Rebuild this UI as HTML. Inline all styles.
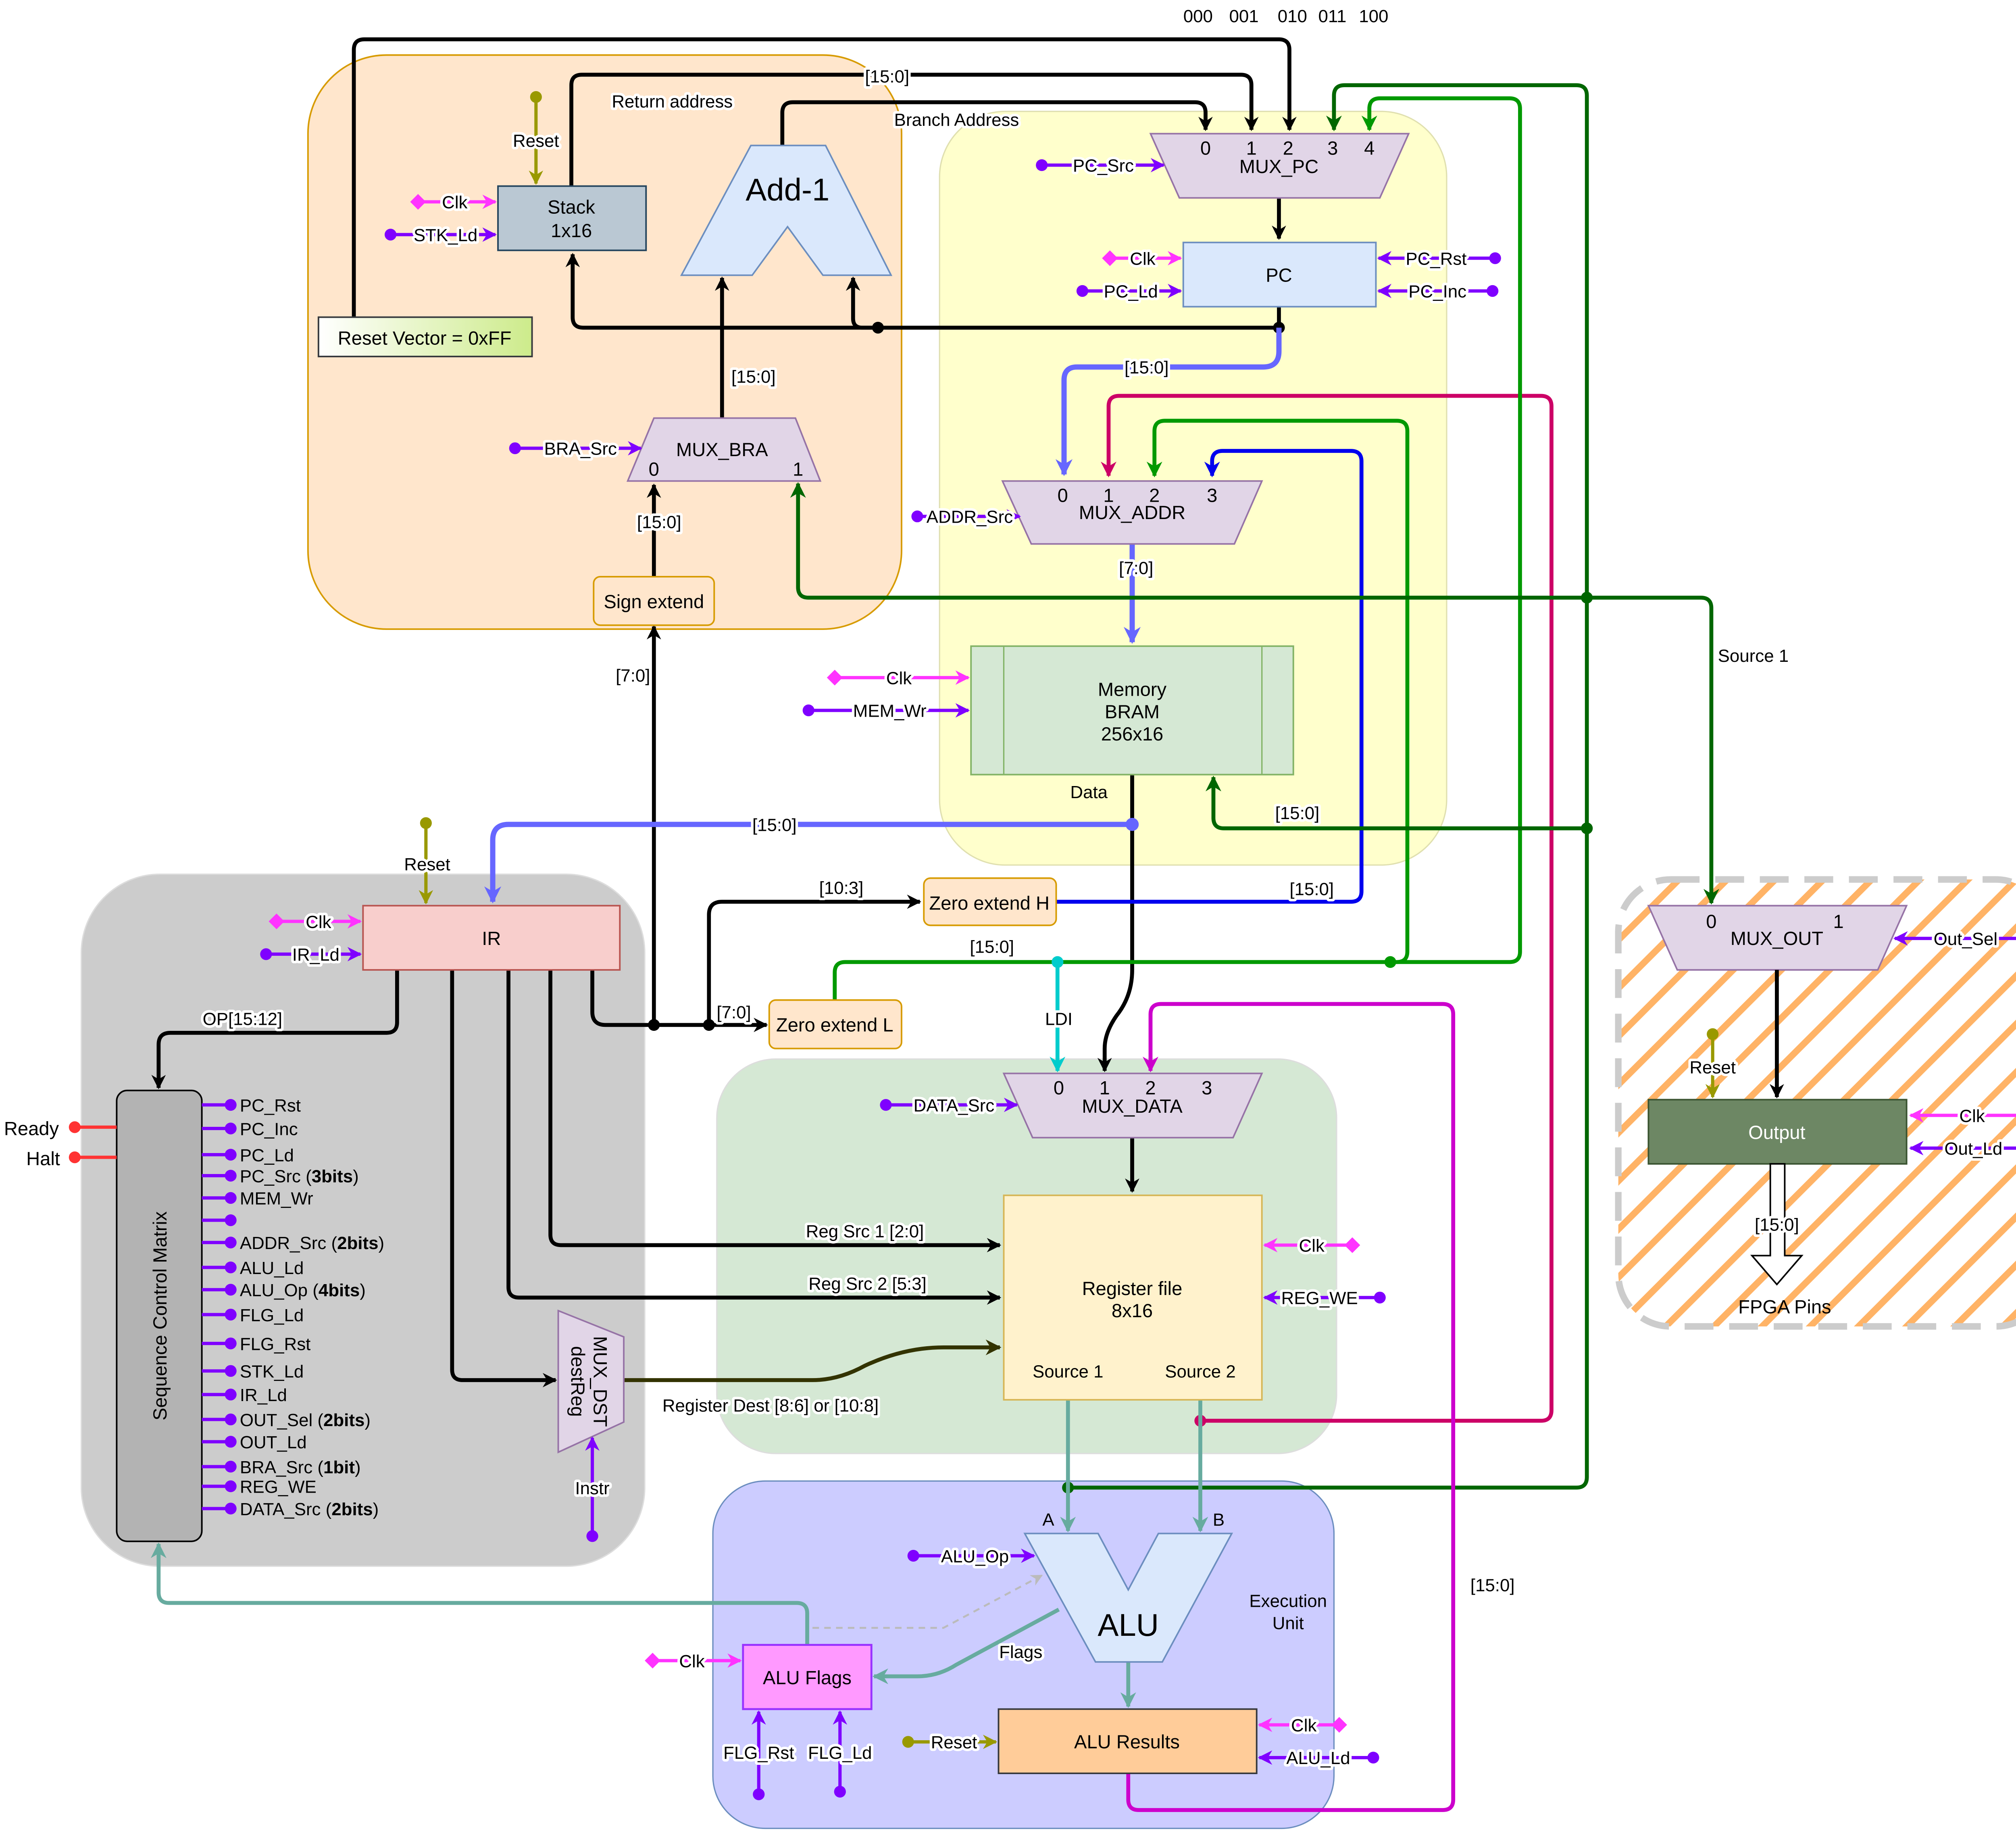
<!DOCTYPE html>
<html><head><meta charset="utf-8">
<style>
html,body{margin:0;padding:0;background:#fff;}
svg{display:block;}
text{font-family:"Liberation Sans",sans-serif;font-size:13.5px;fill:#000;}
.lb{paint-order:stroke;stroke:#fff;stroke-width:4px;stroke-linejoin:round;}
.c{text-anchor:middle;}
.n{font-size:14.5px;text-anchor:middle;}
.w{fill:none;stroke-linejoin:round;}
</style></head><body>
<svg width="5096" height="4540" viewBox="0 0 1568 1397" xmlns="http://www.w3.org/2000/svg">
<defs>
<marker id="mk" viewBox="0 0 10 10" refX="9" refY="5" markerWidth="11" markerHeight="11" markerUnits="userSpaceOnUse" orient="auto"><path d="M0,0L10,5L0,10L3,5z" fill="#000"/></marker>
<marker id="mb" viewBox="0 0 10 10" refX="9" refY="5" markerWidth="13" markerHeight="13" markerUnits="userSpaceOnUse" orient="auto"><path d="M0,0L10,5L0,10L3,5z" fill="#6666ff"/></marker>
<marker id="md" viewBox="0 0 10 10" refX="9" refY="5" markerWidth="12" markerHeight="12" markerUnits="userSpaceOnUse" orient="auto"><path d="M0,0L10,5L0,10L3,5z" fill="#0000ee"/></marker>
<marker id="mr" viewBox="0 0 10 10" refX="9" refY="5" markerWidth="12" markerHeight="12" markerUnits="userSpaceOnUse" orient="auto"><path d="M0,0L10,5L0,10L3,5z" fill="#cc0066"/></marker>
<marker id="mg" viewBox="0 0 10 10" refX="9" refY="5" markerWidth="12" markerHeight="12" markerUnits="userSpaceOnUse" orient="auto"><path d="M0,0L10,5L0,10L3,5z" fill="#009900"/></marker>
<marker id="mdg" viewBox="0 0 10 10" refX="9" refY="5" markerWidth="12" markerHeight="12" markerUnits="userSpaceOnUse" orient="auto"><path d="M0,0L10,5L0,10L3,5z" fill="#006600"/></marker>
<marker id="mc" viewBox="0 0 10 10" refX="9" refY="5" markerWidth="12" markerHeight="12" markerUnits="userSpaceOnUse" orient="auto"><path d="M0,0L10,5L0,10L3,5z" fill="#00cccc"/></marker>
<marker id="mm" viewBox="0 0 10 10" refX="9" refY="5" markerWidth="12" markerHeight="12" markerUnits="userSpaceOnUse" orient="auto"><path d="M0,0L10,5L0,10L3,5z" fill="#cc00cc"/></marker>
<marker id="mt" viewBox="0 0 10 10" refX="9" refY="5" markerWidth="12" markerHeight="12" markerUnits="userSpaceOnUse" orient="auto"><path d="M0,0L10,5L0,10L3,5z" fill="#67ab9f"/></marker>
<marker id="mp" viewBox="0 0 10 10" refX="9" refY="5" markerWidth="11" markerHeight="11" markerUnits="userSpaceOnUse" orient="auto"><path d="M0,0L10,5L0,10L3,5z" fill="#7f00ff"/></marker>
<marker id="mk2" viewBox="0 0 10 10" refX="9" refY="5" markerWidth="11" markerHeight="11" markerUnits="userSpaceOnUse" orient="auto"><path d="M0,0L10,5L0,10L3,5z" fill="#ff33ff"/></marker>
<marker id="mo" viewBox="0 0 10 10" refX="9" refY="5" markerWidth="11" markerHeight="11" markerUnits="userSpaceOnUse" orient="auto"><path d="M0,0L10,5L0,10L3,5z" fill="#999900"/></marker>
<marker id="mdk" viewBox="0 0 10 10" refX="9" refY="5" markerWidth="12" markerHeight="12" markerUnits="userSpaceOnUse" orient="auto"><path d="M0,0L10,5L0,10L3,5z" fill="#333300"/></marker>
<marker id="mgr" viewBox="0 0 10 10" refX="9" refY="5" markerWidth="9" markerHeight="9" markerUnits="userSpaceOnUse" orient="auto"><path d="M0,0L10,5L0,10L3,5z" fill="#bbb"/></marker>
<pattern id="hatch" width="26" height="26" patternUnits="userSpaceOnUse" patternTransform="rotate(45)"><rect width="26" height="26" fill="#fff"/><rect width="5" height="26" fill="#ffb366"/></pattern>
<linearGradient id="rv" x1="0" x2="1"><stop offset="0" stop-color="#fff"/><stop offset="1" stop-color="#cdeb8b"/></linearGradient>
</defs>

<!-- regions -->
<rect x="235" y="42" width="453" height="438" rx="60" fill="#ffe6cc" stroke="#d79b00" stroke-width="1.2"/>
<rect x="717" y="85" width="387" height="575" rx="50" fill="#ffffcc" stroke="#e0e0b0" stroke-width="1"/>
<rect x="62" y="667" width="430" height="528" rx="60" fill="#cccccc" stroke="#ddd" stroke-width="1"/>
<rect x="547" y="808" width="473" height="301" rx="45" fill="#d5e8d4" stroke="#ddd" stroke-width="1"/>
<rect x="544" y="1130" width="474" height="265" rx="40" fill="#ccccff" stroke="#6c8ebf" stroke-width="1"/>
<rect x="1235" y="671" width="328" height="341" rx="40" fill="url(#hatch)" stroke="#cccccc" stroke-width="5" stroke-dasharray="22,12"/>

<text x="903" y="17">000</text><text x="938" y="17">001</text><text x="975" y="17">010</text><text x="1006" y="17">011</text><text x="1037" y="17">100</text>

<!-- black connectors -->
<g class="w" stroke="#000" stroke-width="3">
<path d="M270,242V38Q270,30 278,30H976Q984,30 984,38V99" marker-end="url(#mk)"/>
<path d="M436,142V65Q436,57 444,57H947Q955,57 955,65V99" marker-end="url(#mk)"/>
<path d="M597,111V86Q597,78 605,78H912Q920,78 920,86V99" marker-end="url(#mk)"/>
<path d="M976,151V182" marker-end="url(#mk)"/>
<path d="M976,234V250H445Q437,250 437,242V194" marker-end="url(#mk)"/>
<path d="M670,250H658Q651,250 651,243V212" marker-end="url(#mk)"/>
<path d="M551,319V212" marker-end="url(#mk)"/>
<path d="M499,440V370" marker-end="url(#mk)"/>
<path d="M452,740V772Q452,782 462,782H585" marker-end="url(#mk)"/>
<path d="M499,782V478" marker-end="url(#mk)"/>
<path d="M541,782V698Q541,688 551,688H702" marker-end="url(#mk)"/>
<path d="M303,740V780Q303,788 295,788H130Q121,788 121,797V830" marker-end="url(#mk)"/>
<path d="M420,740V942Q420,950 428,950H763" marker-end="url(#mk)"/>
<path d="M388,740V982Q388,990 396,990H763" marker-end="url(#mk)"/>
<path d="M345,740V1045Q345,1053 353,1053H424" marker-end="url(#mk)"/>
<path d="M864,591V740Q864,760 852,775Q843,788 843,800V817" marker-end="url(#mk)"/>
<path d="M864,868V909" marker-end="url(#mk)"/>
</g>
<path class="w" d="M476,1053H620Q640,1053 660,1042Q690,1028 720,1028H763" stroke="#333300" stroke-width="3" marker-end="url(#mdk)"/>
<g fill="#000"><circle cx="976" cy="250" r="4.5"/><circle cx="670" cy="250" r="4.5"/><circle cx="499" cy="782" r="4.5"/><circle cx="541" cy="782" r="4.5"/></g>

<!-- blue -->
<g class="w" stroke="#6666ff" stroke-width="4">
<path d="M976,250V268Q976,280 964,280H822Q812,280 812,290V362" marker-end="url(#mb)"/>
<path d="M864,415V490" marker-end="url(#mb)"/>
<path d="M864,629H388Q376,629 376,641V688" marker-end="url(#mb)"/>
</g>
<circle cx="864" cy="629" r="5" fill="#6666ff"/>
<path class="w" d="M806,688H1031Q1039,688 1039,680V352Q1039,344 1031,344H933Q925,344 925,352V363" stroke="#0000ee" stroke-width="3" marker-end="url(#md)"/>
<!-- crimson -->
<path class="w" d="M916,1084H1176Q1184,1084 1184,1076V310Q1184,302 1176,302H854Q846,302 846,310V363" stroke="#cc0066" stroke-width="3" marker-end="url(#mr)"/>
<circle cx="916" cy="1084" r="4.5" fill="#cc0066"/>
<!-- green -->
<g class="w" stroke="#009900" stroke-width="3">
<path d="M637,763V742Q637,734 645,734H1066Q1074,734 1074,726V329Q1074,321 1066,321H889Q881,321 881,329V363" marker-end="url(#mg)"/>
<path d="M1061,734H1152Q1160,734 1160,726V83Q1160,75 1152,75H1053Q1045,75 1045,83V99" marker-end="url(#mg)"/>
</g>
<circle cx="1061" cy="734" r="4.5" fill="#009900"/>
<!-- dark green -->
<g class="w" stroke="#006600" stroke-width="3">
<path d="M815,1135H1203Q1211,1135 1211,1127V73Q1211,65 1203,65H1026Q1018,65 1018,73V99" marker-end="url(#mdg)"/>
<path d="M1211,456H617Q609,456 609,448V369" marker-end="url(#mdg)"/>
<path d="M1211,456H1298Q1306,456 1306,464V689" marker-end="url(#mdg)"/>
<path d="M1211,632H934Q926,632 926,624V593" marker-end="url(#mdg)"/>
</g>
<g fill="#006600"><circle cx="815" cy="1135" r="4.5"/><circle cx="1211" cy="456" r="4.5"/><circle cx="1211" cy="632" r="4.5"/></g>
<!-- cyan -->
<path class="w" d="M807,734V817" stroke="#00cccc" stroke-width="3" marker-end="url(#mc)"/>
<circle cx="807" cy="734" r="4.5" fill="#00cccc"/>
<!-- magenta -->
<path class="w" d="M861,1353V1373Q861,1381 869,1381H1101Q1109,1381 1109,1373V774Q1109,766 1101,766H886Q878,766 878,774V817" stroke="#cc00cc" stroke-width="3" marker-end="url(#mm)"/>
<!-- teal -->
<g class="w" stroke="#67ab9f" stroke-width="3">
<path d="M815,1068V1168" marker-end="url(#mt)"/>
<path d="M916,1068V1168" marker-end="url(#mt)"/>
<path d="M861,1268V1302" marker-end="url(#mt)"/>
<path d="M808,1228L730,1270Q716,1279 700,1279H667" marker-end="url(#mt)"/>
<path d="M616,1255V1231Q616,1223 608,1223H129Q121,1223 121,1215V1178" marker-end="url(#mt)"/>
</g>
<path class="w" d="M620,1242H720L795,1202" stroke="#bbb" stroke-width="1.5" stroke-dasharray="5,4" marker-end="url(#mgr)"/>

<!-- nodes -->
<rect x="380" y="142" width="113" height="49" fill="#bac8d3" stroke="#23445d" stroke-width="1.2"/>
<text class="n" x="436" y="163">Stack</text><text class="n" x="436" y="181">1x16</text>
<rect x="243" y="242" width="163" height="30" fill="url(#rv)" stroke="#36393d" stroke-width="1.2"/>
<text class="n" x="324" y="263">Reset Vector = 0xFF</text>
<path d="M520,210L573,111H630L680,210H628L601,173L574,210Z" fill="#dae8fc" stroke="#6c8ebf" stroke-width="1.2"/>
<text x="601" y="153" style="font-size:24px;text-anchor:middle">Add-1</text>
<path d="M479,367L499,319H607L626,367Z" fill="#e1d5e7" stroke="#9673a6" stroke-width="1.2"/>
<text class="n" x="551" y="348">MUX_BRA</text><text class="n" x="499" y="363">0</text><text class="n" x="609" y="363">1</text>
<rect x="453" y="440" width="92" height="37" rx="5" fill="#ffe6cc" stroke="#d79b00" stroke-width="1.2"/>
<text class="n" x="499" y="464">Sign extend</text>

<path d="M878,102H1075L1053,151H900Z" fill="#e1d5e7" stroke="#9673a6" stroke-width="1.2"/>
<text class="n" x="920" y="118">0</text><text class="n" x="955" y="118">1</text><text class="n" x="983" y="118">2</text><text class="n" x="1017" y="118">3</text><text class="n" x="1045" y="118">4</text>
<text class="n" x="976" y="132">MUX_PC</text>
<rect x="903" y="185" width="147" height="49" fill="#dae8fc" stroke="#6c8ebf" stroke-width="1.2"/>
<text class="n" x="976" y="215">PC</text>
<path d="M765,367H963L942,415H787Z" fill="#e1d5e7" stroke="#9673a6" stroke-width="1.2"/>
<text class="n" x="811" y="383">0</text><text class="n" x="846" y="383">1</text><text class="n" x="881" y="383">2</text><text class="n" x="925" y="383">3</text>
<text class="n" x="864" y="396">MUX_ADDR</text>
<rect x="741" y="493" width="246" height="98" fill="#d5e8d4" stroke="#82b366" stroke-width="1.2"/>
<line x1="766" y1="493" x2="766" y2="591" stroke="#82b366"/><line x1="963" y1="493" x2="963" y2="591" stroke="#82b366"/>
<text class="n" x="864" y="531">Memory</text><text class="n" x="864" y="548">BRAM</text><text class="n" x="864" y="565">256x16</text>
<text class="c" x="831" y="609">Data</text>

<rect x="277" y="691" width="196" height="49" fill="#f8cecc" stroke="#b85450" stroke-width="1.2"/>
<text class="n" x="375" y="721">IR</text>
<rect x="705" y="670" width="101" height="36" rx="5" fill="#ffe6cc" stroke="#d79b00" stroke-width="1.2"/>
<text class="n" x="755" y="694">Zero extend H</text>
<rect x="587" y="763" width="101" height="37" rx="5" fill="#ffe6cc" stroke="#d79b00" stroke-width="1.2"/>
<text class="n" x="637" y="787">Zero extend L</text>

<path d="M766,819H963L941,868H788Z" fill="#e1d5e7" stroke="#9673a6" stroke-width="1.2"/>
<text class="n" x="808" y="835">0</text><text class="n" x="843" y="835">1</text><text class="n" x="878" y="835">2</text><text class="n" x="921" y="835">3</text>
<text class="n" x="864" y="849">MUX_DATA</text>
<rect x="766" y="912" width="197" height="156" fill="#fff2cc" stroke="#d6b656" stroke-width="1.2"/>
<text class="n" x="864" y="988">Register file</text><text class="n" x="864" y="1005">8x16</text>
<text class="c" x="815" y="1051">Source 1</text><text class="c" x="916" y="1051">Source 2</text>

<path d="M426,1000L476,1020V1085L426,1108Z" fill="#e1d5e7" stroke="#9673a6" stroke-width="1.2"/>
<text class="n" transform="translate(453,1054) rotate(90)" y="0">MUX_DST</text>
<text class="n" transform="translate(436,1054) rotate(90)" y="0">destReg</text>

<rect x="89" y="832" width="65" height="344" rx="8" fill="#b3b3b3" stroke="#000" stroke-width="1.2"/>
<text class="n" transform="translate(127,1004) rotate(-90)">Sequence Control Matrix</text>

<path d="M782,1170H838L861,1213L884,1170H940L887,1268H836Z" fill="#dae8fc" stroke="#6c8ebf" stroke-width="1.2"/>
<text x="861" y="1248" style="font-size:24px;text-anchor:middle">ALU</text>
<text class="c" x="800" y="1164">A</text><text class="c" x="930" y="1164">B</text>
<text class="c" x="983" y="1226">Execution</text><text class="c" x="983" y="1243">Unit</text>
<rect x="567" y="1255" width="98" height="49" fill="#ff99ff" stroke="#9933ff" stroke-width="1.5"/>
<text class="n" x="616" y="1285">ALU Flags</text>
<rect x="762" y="1304" width="197" height="49" fill="#ffcc99" stroke="#36393d" stroke-width="1.2"/>
<text class="n" x="860" y="1334">ALU Results</text>

<path d="M1258,691H1455L1433,740H1280Z" fill="#e1d5e7" stroke="#9673a6" stroke-width="1.2"/>
<text class="n" x="1306" y="708">0</text><text class="n" x="1403" y="708">1</text><text class="n" x="1356" y="721">MUX_OUT</text>
<path class="w" d="M1356,740V837" stroke="#000" stroke-width="3" marker-end="url(#mk)"/>
<rect x="1258" y="839" width="197" height="49" fill="#6d8764" stroke="#3a5431" stroke-width="1.2"/>
<text class="n" x="1356" y="869" style="fill:#fff">Output</text>
<path d="M1351,888H1362V958H1375L1356,980L1337,958H1351Z" fill="#fff" stroke="#000" stroke-width="1.2"/>
<text class="c lb" x="1356" y="939">[15:0]</text>
<text class="n" x="1362" y="1002">FPGA Pins</text>

<!-- line labels -->
<text class="c lb" x="677" y="63">[15:0]</text>
<text class="c lb" x="513" y="82">Return address</text>
<text class="c lb" x="730" y="96">Branch Address</text>
<text class="c lb" x="575" y="292">[15:0]</text>
<text class="c lb" x="503" y="403">[15:0]</text>
<text class="c lb" x="483" y="520">[7:0]</text>
<text class="c lb" x="875" y="285">[15:0]</text>
<text class="c lb" x="867" y="438">[7:0]</text>
<text class="c lb" x="591" y="634">[15:0]</text>
<text class="c lb" x="990" y="625">[15:0]</text>
<text class="c lb" x="1001" y="683">[15:0]</text>
<text class="c lb" x="642" y="682">[10:3]</text>
<text class="c lb" x="757" y="727">[15:0]</text>
<text class="c lb" x="560" y="777">[7:0]</text>
<text class="c lb" x="808" y="782">LDI</text>
<text class="c lb" x="185" y="782">OP[15:12]</text>
<text class="c lb" x="660" y="944">Reg Src 1 [2:0]</text>
<text class="c lb" x="662" y="984">Reg Src 2 [5:3]</text>
<text class="c lb" x="588" y="1077">Register Dest [8:6] or [10:8]</text>
<text class="c lb" x="1338" y="505">Source 1</text>
<text class="c lb" x="1139" y="1214">[15:0]</text>
<text class="c lb" x="779" y="1265">Flags</text>

<!-- control signals: purple -->
<g class="w" stroke="#7f00ff" stroke-width="2.5">
<path d="M795,126H888" marker-end="url(#mp)"/>
<path d="M826,222H901" marker-end="url(#mp)"/>
<path d="M1141,197H1052" marker-end="url(#mp)"/>
<path d="M1139,222H1052" marker-end="url(#mp)"/>
<path d="M298,179H378" marker-end="url(#mp)"/>
<path d="M393,342H489" marker-end="url(#mp)"/>
<path d="M700,394H778" marker-end="url(#mp)"/>
<path d="M617,542H739" marker-end="url(#mp)"/>
<path d="M203,728H275" marker-end="url(#mp)"/>
<path d="M676,843H776" marker-end="url(#mp)"/>
<path d="M1053,990H965" marker-end="url(#mp)"/>
<path d="M452,1172V1097" marker-end="url(#mp)"/>
<path d="M697,1187H789" marker-end="url(#mp)"/>
<path d="M579,1369V1306" marker-end="url(#mp)"/>
<path d="M641,1367V1306" marker-end="url(#mp)"/>
<path d="M1048,1341H961" marker-end="url(#mp)"/>
<path d="M1553,716H1446" marker-end="url(#mp)"/>
<path d="M1555,876H1458" marker-end="url(#mp)"/>
</g>
<g fill="#7f00ff">
<circle cx="795" cy="126" r="4.5"/><circle cx="826" cy="222" r="4.5"/><circle cx="1141" cy="197" r="4.5"/><circle cx="1139" cy="222" r="4.5"/>
<circle cx="298" cy="179" r="4.5"/><circle cx="393" cy="342" r="4.5"/><circle cx="700" cy="394" r="4.5"/><circle cx="617" cy="542" r="4.5"/>
<circle cx="203" cy="728" r="4.5"/><circle cx="676" cy="843" r="4.5"/><circle cx="1053" cy="990" r="4.5"/><circle cx="452" cy="1172" r="4.5"/>
<circle cx="697" cy="1187" r="4.5"/><circle cx="579" cy="1369" r="4.5"/><circle cx="641" cy="1367" r="4.5"/><circle cx="1048" cy="1341" r="4.5"/>
<circle cx="1553" cy="716" r="4.5"/><circle cx="1555" cy="876" r="4.5"/>
</g>
<!-- clk pink -->
<g class="w" stroke="#ff33ff" stroke-width="2.5">
<path d="M847,197H901" marker-end="url(#mk2)"/>
<path d="M319,154H378" marker-end="url(#mk2)"/>
<path d="M637,517H739" marker-end="url(#mk2)"/>
<path d="M211,703H275" marker-end="url(#mk2)"/>
<path d="M1032,950H965" marker-end="url(#mk2)"/>
<path d="M498,1267H565" marker-end="url(#mk2)"/>
<path d="M1022,1316H961" marker-end="url(#mk2)"/>
<path d="M1548,851H1458" marker-end="url(#mk2)"/>
</g>
<g fill="#ff33ff">
<path d="M847,191l6,6l-6,6l-6,-6z"/><path d="M319,148l6,6l-6,6l-6,-6z"/><path d="M637,511l6,6l-6,6l-6,-6z"/><path d="M211,697l6,6l-6,6l-6,-6z"/>
<path d="M1032,944l6,6l-6,6l-6,-6z"/><path d="M498,1261l6,6l-6,6l-6,-6z"/><path d="M1022,1310l6,6l-6,6l-6,-6z"/><path d="M1548,845l6,6l-6,6l-6,-6z"/>
</g>
<!-- reset olive -->
<g class="w" stroke="#999900" stroke-width="2.5">
<path d="M409,74V140" marker-end="url(#mo)"/>
<path d="M325,628V689" marker-end="url(#mo)"/>
<path d="M693,1329H760" marker-end="url(#mo)"/>
<path d="M1307,789V837" marker-end="url(#mo)"/>
</g>
<g fill="#999900"><circle cx="409" cy="74" r="4.5"/><circle cx="325" cy="628" r="4.5"/><circle cx="693" cy="1329" r="4.5"/><circle cx="1307" cy="789" r="4.5"/></g>
<!-- ready/halt -->
<g stroke="#ff3333" stroke-width="2.5"><line x1="57" y1="860" x2="89" y2="860"/><line x1="57" y1="883" x2="89" y2="883"/></g>
<g fill="#ff3333"><circle cx="57" cy="860" r="4.5"/><circle cx="57" cy="883" r="4.5"/></g>
<text x="3" y="866" style="font-size:14.5px">Ready</text><text x="20" y="889" style="font-size:14.5px">Halt</text>

<!-- signal labels -->
<text class="c lb" x="842" y="131">PC_Src</text>
<text class="c lb" x="872" y="202">Clk</text>
<text class="c lb" x="863" y="227">PC_Ld</text>
<text class="c lb" x="1096" y="202">PC_Rst</text>
<text class="c lb" x="1097" y="227">PC_Inc</text>
<text class="c lb" x="347" y="159">Clk</text>
<text class="c lb" x="340" y="184">STK_Ld</text>
<text class="c lb" x="409" y="112">Reset</text>
<text class="c lb" x="443" y="347">BRA_Src</text>
<text class="c lb" x="740" y="399">ADDR_Src</text>
<text class="c lb" x="686" y="522">Clk</text>
<text class="c lb" x="679" y="547">MEM_Wr</text>
<text class="c lb" x="326" y="664">Reset</text>
<text class="c lb" x="243" y="708">Clk</text>
<text class="c lb" x="241" y="733">IR_Ld</text>
<text class="c lb" x="728" y="848">DATA_Src</text>
<text class="c lb" x="1001" y="955">Clk</text>
<text class="c lb" x="1007" y="995">REG_WE</text>
<text class="c lb" x="452" y="1140">Instr</text>
<text class="c lb" x="744" y="1192">ALU_Op</text>
<text class="c lb" x="528" y="1272">Clk</text>
<text class="c lb" x="579" y="1342">FLG_Rst</text>
<text class="c lb" x="641" y="1342">FLG_Ld</text>
<text class="c lb" x="728" y="1334">Reset</text>
<text class="c lb" x="995" y="1321">Clk</text>
<text class="c lb" x="1006" y="1346">ALU_Ld</text>
<text class="c lb" x="1500" y="721">Out_Sel</text>
<text class="c lb" x="1307" y="819">Reset</text>
<text class="c lb" x="1505" y="856">Clk</text>
<text class="c lb" x="1506" y="881">Out_Ld</text>

<!-- SCM outputs -->
<g stroke="#7f00ff" stroke-width="2.5">
<line x1="154" y1="843" x2="176" y2="843"/><line x1="154" y1="861" x2="176" y2="861"/><line x1="154" y1="881" x2="176" y2="881"/>
<line x1="154" y1="897" x2="176" y2="897"/><line x1="154" y1="914" x2="176" y2="914"/><line x1="154" y1="931" x2="176" y2="931"/>
<line x1="154" y1="948" x2="176" y2="948"/><line x1="154" y1="967" x2="176" y2="967"/><line x1="154" y1="984" x2="176" y2="984"/>
<line x1="154" y1="1003" x2="176" y2="1003"/><line x1="154" y1="1025" x2="176" y2="1025"/><line x1="154" y1="1046" x2="176" y2="1046"/>
<line x1="154" y1="1064" x2="176" y2="1064"/><line x1="154" y1="1083" x2="176" y2="1083"/><line x1="154" y1="1100" x2="176" y2="1100"/>
<line x1="154" y1="1119" x2="176" y2="1119"/><line x1="154" y1="1134" x2="176" y2="1134"/><line x1="154" y1="1151" x2="176" y2="1151"/>
</g>
<g fill="#7f00ff">
<circle cx="176" cy="843" r="4.5"/><circle cx="176" cy="861" r="4.5"/><circle cx="176" cy="881" r="4.5"/><circle cx="176" cy="897" r="4.5"/>
<circle cx="176" cy="914" r="4.5"/><circle cx="176" cy="931" r="4.5"/><circle cx="176" cy="948" r="4.5"/><circle cx="176" cy="967" r="4.5"/>
<circle cx="176" cy="984" r="4.5"/><circle cx="176" cy="1003" r="4.5"/><circle cx="176" cy="1025" r="4.5"/><circle cx="176" cy="1046" r="4.5"/>
<circle cx="176" cy="1064" r="4.5"/><circle cx="176" cy="1083" r="4.5"/><circle cx="176" cy="1100" r="4.5"/><circle cx="176" cy="1119" r="4.5"/>
<circle cx="176" cy="1134" r="4.5"/><circle cx="176" cy="1151" r="4.5"/>
</g>
<g style="font-size:14px">
<text x="183" y="848">PC_Rst</text><text x="183" y="866">PC_Inc</text><text x="183" y="886">PC_Ld</text>
<text x="183" y="902">PC_Src (<tspan font-weight="bold">3bits</tspan>)</text>
<text x="183" y="919">MEM_Wr</text>
<text x="183" y="953">ADDR_Src (<tspan font-weight="bold">2bits</tspan>)</text>
<text x="183" y="972">ALU_Ld</text>
<text x="183" y="989">ALU_Op (<tspan font-weight="bold">4bits</tspan>)</text>
<text x="183" y="1008">FLG_Ld</text><text x="183" y="1030">FLG_Rst</text><text x="183" y="1051">STK_Ld</text><text x="183" y="1069">IR_Ld</text>
<text x="183" y="1088">OUT_Sel (<tspan font-weight="bold">2bits</tspan>)</text>
<text x="183" y="1105">OUT_Ld</text>
<text x="183" y="1124">BRA_Src (<tspan font-weight="bold">1bit</tspan>)</text>
<text x="183" y="1139">REG_WE</text>
<text x="183" y="1156">DATA_Src (<tspan font-weight="bold">2bits</tspan>)</text>
</g>
</svg>
</body></html>
